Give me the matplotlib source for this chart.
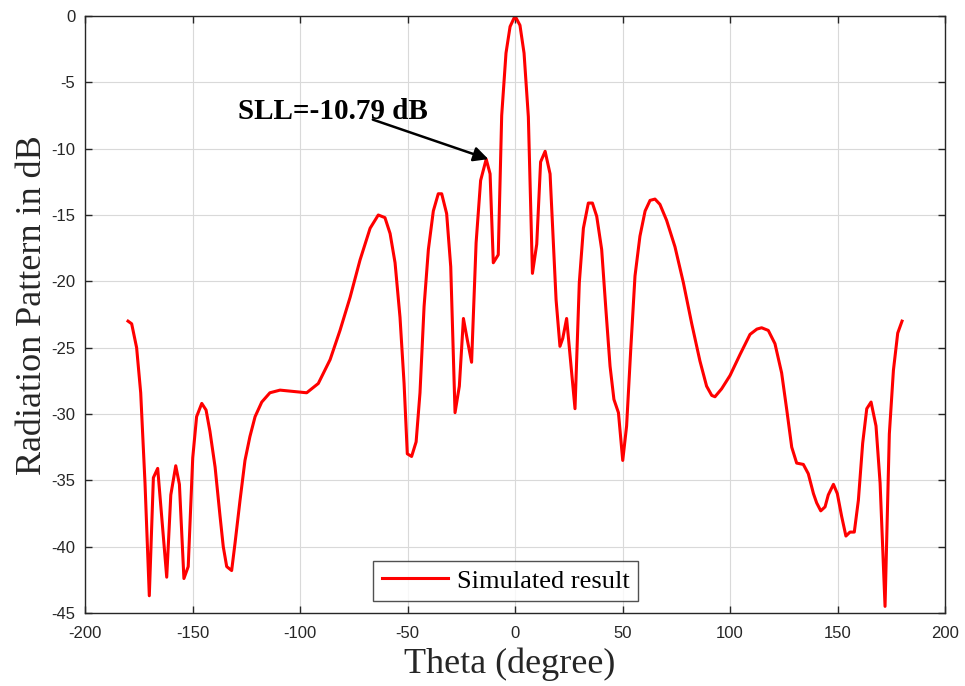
import matplotlib
matplotlib.use("Agg")
import matplotlib.pyplot as plt

plt.rcParams["axes.unicode_minus"] = False

# Far-field radiation pattern (dB) versus theta (degrees)
theta = [
    -180.0, -178.3, -176.0, -174.1, -172.1, -170.1, -168.2, -166.2, -162.0, -160.1,
    -157.8, -156.1, -154.0, -152.0, -149.9, -148.1, -145.7, -143.7, -141.9, -139.5,
    -137.2, -135.7, -134.1, -131.8, -130.2, -127.9, -125.6, -123.3, -120.9, -117.8,
    -114.0, -109.3, -103.1, -96.9, -91.5, -86.0, -81.4, -76.7, -72.1, -67.4,
    -63.6, -60.5, -58.1, -55.8, -53.5, -51.6, -50.1, -48.1, -46.0, -44.2,
    -42.3, -40.3, -38.0, -35.7, -34.1, -31.8, -29.9, -27.9, -25.9, -24.0,
    -22.2, -20.2, -18.1, -16.0, -13.4, -11.6, -10.1, -7.8, -6.2, -4.2,
    -2.3, 0.0, 2.3, 4.2, 6.2, 8.1, 10.1, 11.9, 14.0, 16.3,
    19.1, 20.9, 22.2, 24.0, 27.9, 29.9, 31.8, 34.1, 36.0, 38.0,
    40.3, 42.3, 44.2, 46.0, 48.1, 50.1, 51.9, 53.8, 55.8, 58.1,
    60.5, 62.8, 65.1, 67.4, 70.5, 74.4, 78.3, 82.2, 86.0, 89.1,
    91.5, 93.0, 96.1, 100.0, 104.7, 109.3, 112.5, 114.7, 117.8, 120.9,
    124.0, 126.4, 128.7, 131.0, 134.1, 136.4, 138.8, 140.3, 142.2, 144.2,
    145.7, 148.1, 149.9, 151.9, 153.9, 155.8, 157.8, 159.7, 161.7, 163.6,
    165.6, 167.9, 169.8, 172.1, 174.1, 176.0, 178.0, 180.0,
]
pattern_db = [
    -23.0, -23.2, -25.0, -28.4, -35.2, -43.7, -34.8, -34.1, -42.3, -36.1,
    -33.9, -35.3, -42.4, -41.5, -33.3, -30.2, -29.2, -29.7, -31.3, -34.0,
    -37.7, -40.0, -41.5, -41.8, -39.7, -36.5, -33.5, -31.7, -30.2, -29.1,
    -28.4, -28.2, -28.3, -28.4, -27.7, -25.9, -23.7, -21.2, -18.4, -16.0,
    -15.0, -15.2, -16.4, -18.6, -22.7, -27.7, -33.0, -33.2, -32.1, -28.4,
    -21.9, -17.6, -14.7, -13.4, -13.4, -14.9, -18.9, -29.9, -27.9, -22.8,
    -24.4, -26.1, -17.1, -12.4, -10.79, -11.9, -18.6, -18.0, -7.5, -2.8,
    -0.8, 0.0, -0.7, -2.8, -7.6, -19.4, -17.2, -11.0, -10.2, -11.9,
    -21.4, -24.9, -24.3, -22.8, -29.6, -20.1, -16.0, -14.1, -14.1, -15.1,
    -17.6, -22.2, -26.4, -28.9, -29.9, -33.5, -30.9, -25.2, -19.6, -16.6,
    -14.7, -13.9, -13.8, -14.2, -15.4, -17.4, -20.1, -23.2, -26.0, -27.9,
    -28.6, -28.7, -28.1, -27.1, -25.5, -24.0, -23.6, -23.5, -23.7, -24.7,
    -26.9, -29.7, -32.5, -33.7, -33.8, -34.5, -36.0, -36.7, -37.3, -37.0,
    -36.1, -35.3, -36.0, -37.7, -39.2, -38.9, -38.9, -36.5, -32.2, -29.6,
    -29.1, -30.9, -35.2, -44.5, -31.5, -26.7, -23.9, -23.0,
]

x_ticks = [-200, -150, -100, -50, 0, 50, 100, 150, 200]
y_ticks = [-45, -40, -35, -30, -25, -20, -15, -10, -5, 0]

sll_theta = -13.4
sll_value = -10.79

serif = ["Liberation Serif", "DejaVu Serif"]
sans = ["Liberation Sans", "DejaVu Sans"]

fig = plt.figure(figsize=(9.65, 6.86), dpi=100)
ax = fig.add_axes([0.0881, 0.1064, 0.8912, 0.8703])

ax.plot(theta, pattern_db, color="#ff0000", linewidth=2.2, label="Simulated result")

ax.set_xlim(-200, 200)
ax.set_ylim(-45, 0)
ax.set_xticks(x_ticks)
ax.set_yticks(y_ticks)
ax.grid(True, color="#d9d9d9", linewidth=0.8)
ax.set_axisbelow(True)

ax.tick_params(direction="in", length=5, width=1.0, color="#262626",
               top=True, right=True, labelsize=12, labelcolor="#262626")
ax.tick_params(axis="x", pad=9)
ax.tick_params(axis="y", pad=7)
for lbl in ax.get_xticklabels() + ax.get_yticklabels():
    lbl.set_family(sans)
for sp in ax.spines.values():
    sp.set_color("#262626")
    sp.set_linewidth(1.0)

ax.set_xlabel("Theta (degree)", family=serif, fontsize=26, color="#262626")
ax.set_ylabel("Radiation Pattern in dB", family=serif, fontsize=26, color="#262626")
ax.xaxis.set_label_coords(0.494, -0.058)
ax.yaxis.set_label_coords(-0.042, 0.516)

ax.annotate(
    f"SLL={sll_value} dB",
    xy=(sll_theta + 1.0, sll_value), xycoords="data",
    xytext=(-128.8, -7.2), textcoords="data",
    ha="left", va="center",
    fontsize=21, fontweight="bold", family=serif, color="#000000",
    arrowprops=dict(arrowstyle="-|>", color="black", lw=1.8,
                    mutation_scale=22, shrinkA=0, shrinkB=0,
                    patchA=None, relpos=(0.71, 0.2)),
)

leg = ax.legend(loc="lower center", bbox_to_anchor=(0.489, 0.02),
                prop={"family": serif, "size": 19}, frameon=True,
                fancybox=False, handlelength=2.5, borderpad=0.32,
                handletextpad=0.35, borderaxespad=0.0)
leg.get_frame().set_edgecolor("#262626")
leg.get_frame().set_linewidth(1.0)

fig.savefig("out.png", dpi=100)
